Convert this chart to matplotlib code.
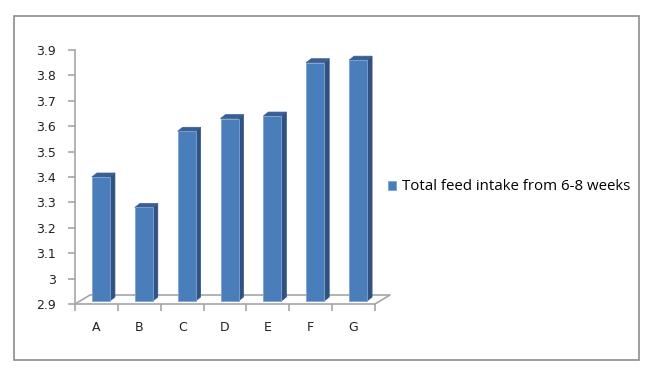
import matplotlib
matplotlib.use("Agg")
import matplotlib.pyplot as plt
from matplotlib.patches import Rectangle, Polygon

categories = ["A", "B", "C", "D", "E", "F", "G"]
feed_intake = [3.40, 3.28, 3.58, 3.63, 3.64, 3.85, 3.86]
series_label = "Total feed intake from 6-8 weeks"
y_ticks = [2.9, 3.0, 3.1, 3.2, 3.3, 3.4, 3.5, 3.6, 3.7, 3.8, 3.9]
y_labels = ["2.9", "3", "3.1", "3.2", "3.3", "3.4", "3.5", "3.6", "3.7", "3.8", "3.9"]

FRONT = "#4a7ebb"
SIDE = "#2f5282"
TOP = "#3a5f92"
GREY = "#a6a6a6"

fig = plt.figure(figsize=(6.56, 3.76), dpi=100)
W, H = 656, 376
# outer chart border
fig.patches.append(Rectangle((14 / W, 1 - 360 / H), (639 - 14) / W, (360 - 16) / H,
                             transform=fig.transFigure, fill=False,
                             edgecolor="#8c8c8c", linewidth=1.2))

ax = fig.add_axes([75 / W, 72 / H, 300 / W, 254 / H])
ax.set_xlim(-0.5, len(categories) - 0.5)
ax.set_ylim(2.9, 3.9)

# 3d offsets in data units (depth of floor and bars)
px_x = (len(categories)) / 300.0
px_y = 1.0 / 254.0
floor_dx, floor_dy = 15 * px_x, 9 * px_y
bar_dx, bar_dy = 5 * px_x, 4 * px_y
base = 2.9 + 3 * px_y
width = 18 * px_x
shift = 4.5 * px_x

# floor
x0, x1 = -0.5, len(categories) - 0.5
ax.plot([x0, x0 + floor_dx, x1 + floor_dx, x1], [2.9, 2.9 + floor_dy, 2.9 + floor_dy, 2.9],
        color=GREY, lw=1.2, clip_on=False, zorder=1)

xs = list(range(len(categories)))
for x, v in zip(xs, feed_intake):
    left = x - width / 2 + shift
    right = left + width
    ax.add_patch(Polygon([(right, base), (right + bar_dx, base + bar_dy),
                          (right + bar_dx, v + bar_dy), (right, v)],
                         closed=True, facecolor=SIDE, edgecolor=SIDE, lw=0.5,
                         clip_on=False, zorder=2))
    ax.add_patch(Polygon([(left, v), (left + bar_dx, v + bar_dy),
                          (right + bar_dx, v + bar_dy), (right, v)],
                         closed=True, facecolor=TOP, edgecolor=TOP, lw=0.5,
                         clip_on=False, zorder=2))
ax.bar([x + shift for x in xs], [v - base for v in feed_intake], width=width,
       bottom=base, color=FRONT, edgecolor="#7fa3d3", linewidth=0.6, zorder=3,
       label=series_label, clip_on=False)

for s in ["top", "right"]:
    ax.spines[s].set_visible(False)
ax.spines["left"].set_color(GREY)
ax.spines["bottom"].set_color(GREY)
ax.spines["left"].set_linewidth(1.2)
ax.spines["bottom"].set_linewidth(1.2)

ax.set_yticks(y_ticks)
ax.set_yticklabels(y_labels)
ax.set_xticks([x + 0.5 for x in range(-1, len(categories))], minor=False)
ax.set_xticklabels([])
ax.set_xticks(xs, minor=True)
ax.set_xticklabels(categories, minor=True)
ax.tick_params(axis="x", which="major", length=5, color=GREY, width=1.2, direction="out")
ax.tick_params(axis="x", which="minor", length=0, pad=12, labelsize=9, labelcolor="#222222")
ax.tick_params(axis="y", length=5, color=GREY, width=1.2, labelsize=9,
               labelcolor="#222222", pad=8.5)

leg = ax.legend(loc="center left", bbox_to_anchor=(388 / W, 1 - 187 / H),
                bbox_transform=fig.transFigure, frameon=False, handlelength=0.55,
                handleheight=0.55, handletextpad=0.35, borderpad=0, borderaxespad=0,
                prop={"family": "Open Sans", "size": 10.8})

fig.savefig("out.png", dpi=100)
